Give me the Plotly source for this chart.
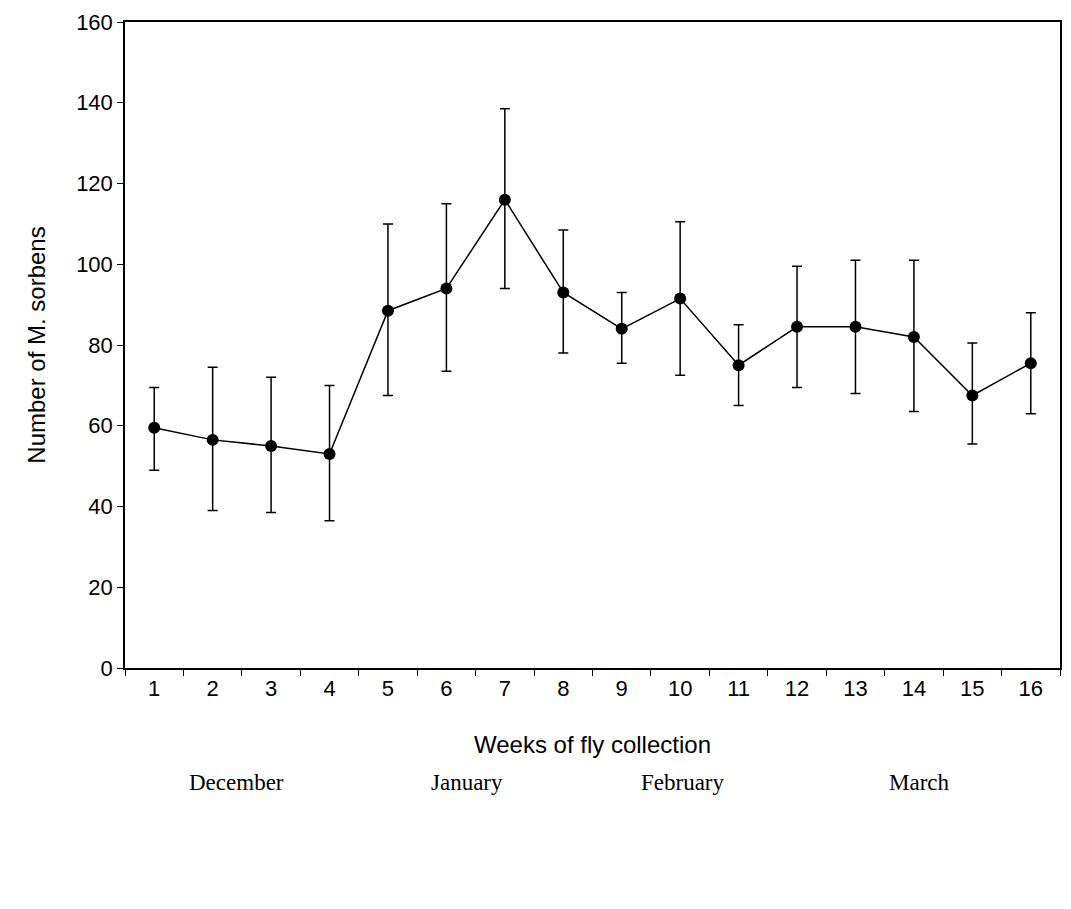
import plotly.graph_objects as go

weeks = list(range(1, 17))
means = [59.5, 56.5, 55, 53, 88.5, 94, 116, 93, 84, 91.5, 75, 84.5, 84.5, 82, 67.5, 75.5]
upper = [69.5, 74.5, 72, 70, 110, 115, 138.5, 108.5, 93, 110.5, 85, 99.5, 101, 101, 80.5, 88]
lower = [49, 39, 38.5, 36.5, 67.5, 73.5, 94, 78, 75.5, 72.5, 65, 69.5, 68, 63.5, 55.5, 63]
months = ["December", "January", "February", "March"]
month_x = [2.4, 6.35, 10.05, 14.1]

err_plus = [u - m for u, m in zip(upper, means)]
err_minus = [m - l for m, l in zip(means, lower)]

fig = go.Figure()
fig.add_trace(go.Scatter(
    x=weeks, y=means, mode="lines+markers",
    line=dict(color="black", width=1.5),
    marker=dict(color="black", size=12),
    error_y=dict(type="data", array=err_plus, arrayminus=err_minus,
                 color="black", thickness=1.5, width=5),
    showlegend=False,
))

for m, x in zip(months, month_x):
    fig.add_annotation(x=x, y=-0.2, xref="x", yref="paper", text=m, showarrow=False,
                       font=dict(family="Liberation Serif", size=23, color="black"))

axis_font = dict(family="Liberation Sans", size=22, color="black")
title_font = dict(family="Liberation Sans", size=24, color="black")
fig.update_xaxes(range=[0.5, 16.5], tickvals=weeks, ticks="", showgrid=False, zeroline=False,
                 showline=True, linecolor="black", mirror=True, linewidth=1.5,
                 tickfont=axis_font,
                 minor=dict(tick0=0.5, dtick=1, ticks="outside", ticklen=6, tickcolor="black", showgrid=False),
                 title=dict(text="Weeks of fly collection", font=title_font, standoff=36))
fig.update_yaxes(range=[0, 160], dtick=20, ticks="outside", ticklen=6, tickcolor="black",
                 showgrid=False, zeroline=False, showline=True, linecolor="black", mirror=True,
                 linewidth=1.5, tickfont=axis_font,
                 title=dict(text="Number of M. sorbens", font=title_font, standoff=24))
fig.update_layout(width=1055, height=893, plot_bgcolor="white", paper_bgcolor="white",
                  margin=dict(l=117, r=3, t=14, b=233, autoexpand=False))
fig.write_html("out.html")
